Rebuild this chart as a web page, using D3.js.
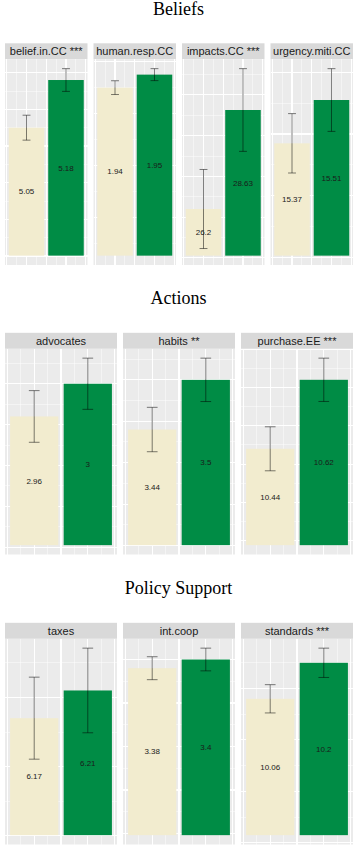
<!DOCTYPE html>
<html><head><meta charset="utf-8">
<script src="https://cdn.jsdelivr.net/npm/d3@7"></script>
<style>body{margin:0;background:#fff}svg{display:block}</style>
</head><body><svg id="c" width="357" height="849"></svg>
<script>
// ---------- data ----------
const sections = ["Beliefs", "Actions", "Policy Support"];
const facetNames = ["belief.in.CC ***", "human.resp.CC", "impacts.CC ***", "urgency.miti.CC",
                    "advocates", "habits **", "purchase.EE ***",
                    "taxes", "int.coop", "standards ***"];
const facetSection = [0, 0, 0, 0, 1, 1, 1, 2, 2, 2];
const groups = ["Control", "Treatment"];
const controlMean   = [5.05, 1.94, 26.2, 15.37, 2.96, 3.44, 10.44, 6.17, 3.38, 10.06];
const treatmentMean = [5.18, 1.95, 28.63, 15.51, 3.00, 3.50, 10.62, 6.21, 3.40, 10.20];
const controlErr    = [0.034, 0.0053, 0.97, 0.096, 0.0316, 0.0268, 0.0574, 0.0592, 0.0264, 0.055];
const treatmentErr  = [0.031, 0.0046, 1.015, 0.1014, 0.0313, 0.0262, 0.0565, 0.0611, 0.0261, 0.057];
const axisMin       = [4.701, 1.8108, 25.055, 15.0068, 2.8026, 3.3004, 10.1886, 6.0011, 2.9962, 9.5297];

// ---------- style / layout ----------
const colors = {Control: "#F2ECCF", Treatment: "#008C45"};
const W = 357;
const rowTop = [0, 289.5, 579.5];
const titleBase = 14.6, stripTop = 43.3, stripH = 16, panelTop = 59.3, panelH = 205.7;
const plotL = 5, plotR = 353, gap = 6;

// Wilkinson extended breaks (as in R labeling::extended, used by ggplot2)
function extended(dmin, dmax, m = 5) {
  const Q = [1, 5, 2, 2.5, 4, 3], w = [0.25, 0.2, 0.5, 0.05], eps = 1e-10, n = Q.length;
  let best = {score: -2};
  const simplicity = (i, j, lmin, lmax, lstep) => {
    const mod = ((lmin % lstep) + lstep) % lstep;
    const v = ((mod < eps || lstep - mod < eps) && lmin <= 0 && lmax >= 0) ? 1 : 0;
    return 1 - i / (n - 1) - j + v;
  };
  const simplicityMax = (i, j) => 1 - i / (n - 1) - j + 1;
  const coverage = (lmin, lmax) => { const r = dmax - dmin; return 1 - 0.5 * ((dmax - lmax) ** 2 + (dmin - lmin) ** 2) / ((0.1 * r) ** 2); };
  const coverageMax = span => { const r = dmax - dmin; if (span > r) { const h = (span - r) / 2; return 1 - 0.5 * (2 * h * h) / ((0.1 * r) ** 2); } return 1; };
  const density = (k, lmin, lmax) => { const r = (k - 1) / (lmax - lmin); const rt = (m - 1) / (Math.max(lmax, dmax) - Math.min(dmin, lmin)); return 2 - Math.max(r / rt, rt / r); };
  const densityMax = k => k >= m ? 2 - (k - 1) / (m - 1) : 1;
  let j = 1;
  outer: while (j < 50) {
    for (let qi = 0; qi < n; qi++) {
      const q = Q[qi];
      const sm = simplicityMax(qi, j);
      if (w[0] * sm + w[1] + w[2] + w[3] < best.score) break outer;
      let k = 2;
      while (k < 100) {
        const dm = densityMax(k);
        if (w[0] * sm + w[1] + w[2] * dm + w[3] < best.score) break;
        const delta = (dmax - dmin) / (k + 1) / j / q;
        let z = Math.ceil(Math.log10(delta));
        while (z < 20) {
          const step = j * q * Math.pow(10, z);
          const cm = coverageMax(step * (k - 1));
          if (w[0] * sm + w[1] * cm + w[2] * dm + w[3] < best.score) break;
          const minStart = Math.floor(dmax / step) * j - (k - 1) * j;
          const maxStart = Math.ceil(dmin / step) * j;
          if (minStart > maxStart) { z++; continue; }
          for (let start = minStart; start <= maxStart; start++) {
            const lmin = start * (step / j), lmax = lmin + step * (k - 1);
            const score = w[0] * simplicity(qi, j, lmin, lmax, step) + w[1] * coverage(lmin, lmax) +
                          w[2] * density(k, lmin, lmax) + w[3];
            if (score > best.score) best = {lmin, lmax, lstep: step, score, k};
          }
          z++;
        }
        k++;
      }
    }
    j++;
  }
  return d3.range(best.k).map(i => best.lmin + i * best.lstep);
}
function minorBreaks(b, lim) {
  const bd = b[1] - b[0];
  let bb = b.slice();
  if (lim[0] < bb[0]) bb.unshift(bb[0] - bd);
  if (lim[1] > bb[bb.length - 1]) bb.push(bb[bb.length - 1] + bd);
  const out = [];
  for (let i = 0; i < bb.length - 1; i++) { out.push(bb[i], (bb[i] + bb[i + 1]) / 2); }
  out.push(bb[bb.length - 1]);
  return out.filter(v => v >= lim[0] && v <= lim[1]);
}
const expand = (a, b) => { const d = (b - a) * 0.05; return [a - d, b + d]; };

const svg = d3.select("#c");
svg.append("rect").attr("width", W).attr("height", 849).attr("fill", "#fff");

sections.forEach((sec, si) => {
  const top = rowTop[si];
  svg.append("text").attr("x", W / 2).attr("y", top + titleBase)
    .attr("text-anchor", "middle").attr("font-family", "Liberation Serif, serif")
    .attr("font-size", 18).attr("fill", "#000").text(sec);

  const idx = facetSection.map((s, i) => s === si ? i : -1).filter(i => i >= 0);
  const nP = idx.length;
  const pw = (plotR - plotL - gap * (nP - 1)) / nP;

  idx.forEach((fi, pi) => {
    const x0 = plotL + pi * (pw + gap);
    const g = svg.append("g");
    // strip
    g.append("rect").attr("x", x0).attr("y", top + stripTop).attr("width", pw).attr("height", stripH).attr("fill", "#D9D9D9");
    g.append("text").attr("x", x0 + pw / 2).attr("y", top + stripTop + stripH / 2 + 4)
      .attr("text-anchor", "middle").attr("font-family", "Liberation Sans, Arial, sans-serif")
      .attr("font-size", 11).attr("fill", "#1A1A1A").text(facetNames[fi]);
    // panel
    const py0 = top + panelTop, py1 = py0 + panelH;
    g.append("rect").attr("x", x0).attr("y", py0).attr("width", pw).attr("height", panelH).attr("fill", "#EBEBEB");

    const means = [controlMean[fi], treatmentMean[fi]];
    const errs = [controlErr[fi], treatmentErr[fi]];
    const lo = axisMin[fi];
    const hi = d3.max(means.map((m, i) => m + errs[i]));
    const yLim = expand(lo, hi);
    const xLim = expand(0.55, 2.45);
    const x = d3.scaleLinear().domain(xLim).range([x0, x0 + pw]);
    const y = d3.scaleLinear().domain(yLim).range([py1, py0]);

    const xMaj = extended(xLim[0], xLim[1]);
    const yMaj = extended(yLim[0], yLim[1]);
    const xMin = minorBreaks(xMaj, xLim), yMin = minorBreaks(yMaj, yLim);
    const grid = g.append("g").attr("stroke", "#fff").attr("shape-rendering", "crispEdges");
    grid.selectAll(".ymin").data(yMin).join("line").attr("x1", x0).attr("x2", x0 + pw)
      .attr("y1", d => y(d)).attr("y2", d => y(d)).attr("stroke-width", 0.55).attr("stroke-opacity", 0.8);
    grid.selectAll(".xmin").data(xMin).join("line").attr("y1", py0).attr("y2", py1)
      .attr("x1", d => x(d)).attr("x2", d => x(d)).attr("stroke-width", 0.55).attr("stroke-opacity", 0.8);
    grid.selectAll(".ymaj").data(yMaj.filter(v => v >= yLim[0] && v <= yLim[1])).join("line").attr("x1", x0).attr("x2", x0 + pw)
      .attr("y1", d => y(d)).attr("y2", d => y(d)).attr("stroke-width", 1.1);
    grid.selectAll(".xmaj").data(xMaj.filter(v => v >= xLim[0] && v <= xLim[1])).join("line").attr("y1", py0).attr("y2", py1)
      .attr("x1", d => x(d)).attr("x2", d => x(d)).attr("stroke-width", 1.1);

    const rows = groups.map((gr, i) => ({gr, xv: i + 1, m: means[i], e: errs[i]}));
    g.selectAll(".bar").data(rows).join("rect")
      .attr("x", d => x(d.xv - 0.45)).attr("width", d => x(d.xv + 0.45) - x(d.xv - 0.45))
      .attr("y", d => y(d.m)).attr("height", d => y(lo) - y(d.m)).attr("fill", d => colors[d.gr]);
    g.selectAll(".lab").data(rows).join("text")
      .attr("x", d => x(d.xv)).attr("y", d => y((lo + d.m) / 2)).attr("dy", "0.35em")
      .attr("text-anchor", "middle").attr("font-family", "Liberation Sans, Arial, sans-serif")
      .attr("font-size", 8).attr("fill", "#1a1a1a").text(d => String(d.m));
    const eb = g.selectAll(".eb").data(rows).join("g").attr("stroke", "#000").attr("stroke-opacity", 0.5).attr("stroke-width", 1).attr("fill", "none");
    eb.append("line").attr("x1", d => x(d.xv)).attr("x2", d => x(d.xv)).attr("y1", d => y(d.m - d.e)).attr("y2", d => y(d.m + d.e));
    eb.append("line").attr("x1", d => x(d.xv - 0.1)).attr("x2", d => x(d.xv + 0.1)).attr("y1", d => y(d.m + d.e)).attr("y2", d => y(d.m + d.e));
    eb.append("line").attr("x1", d => x(d.xv - 0.1)).attr("x2", d => x(d.xv + 0.1)).attr("y1", d => y(d.m - d.e)).attr("y2", d => y(d.m - d.e));
  });
});
</script></body></html>
